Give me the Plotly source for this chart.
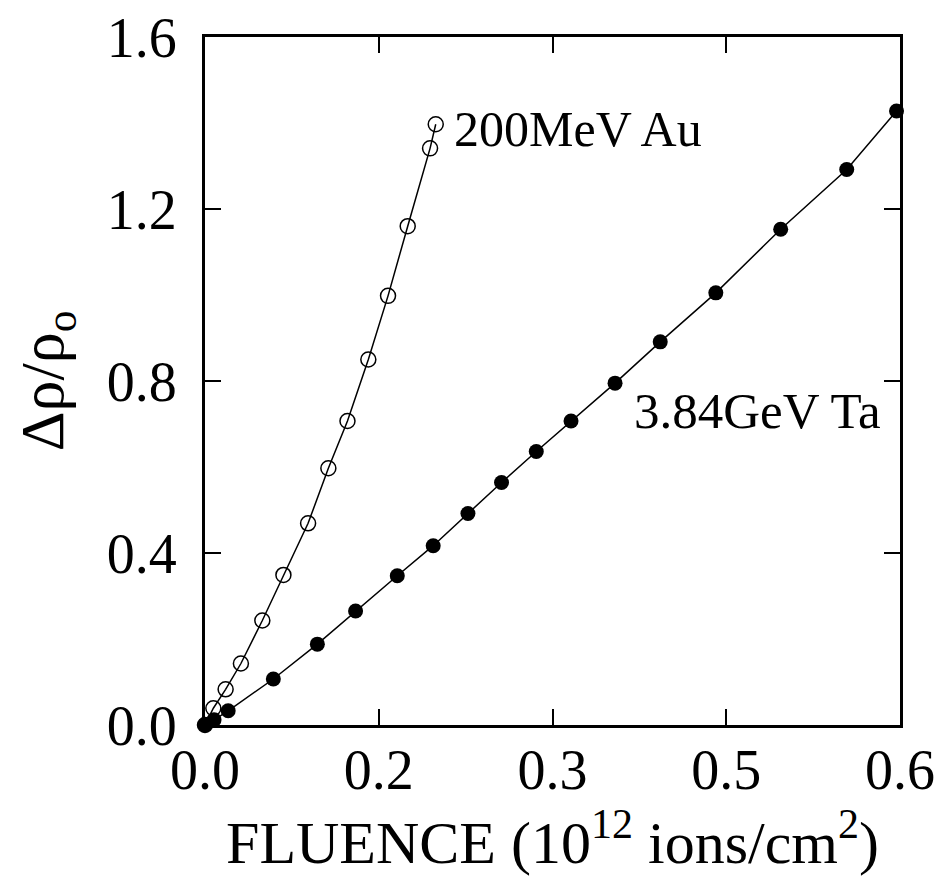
import plotly.graph_objects as go

# 200 MeV Au (open circles)
au_fluence = [0.0, 0.0072, 0.0178, 0.031, 0.0495, 0.0677, 0.089, 0.1065, 0.123,
              0.141, 0.158, 0.175, 0.1943, 0.1992]
au_drho = [0.0, 0.039, 0.083, 0.143, 0.243, 0.349, 0.469, 0.597, 0.707,
           0.850, 0.998, 1.160, 1.341, 1.397]

# 3.84 GeV Ta (filled circles)
ta_fluence = [0.0, 0.0078, 0.020, 0.059, 0.097, 0.130, 0.166, 0.197, 0.227,
              0.256, 0.286, 0.316, 0.354, 0.393, 0.441, 0.497, 0.554, 0.597]
ta_drho = [0.0, 0.012, 0.033, 0.107, 0.188, 0.265, 0.347, 0.417, 0.492,
           0.564, 0.636, 0.707, 0.795, 0.891, 1.005, 1.153, 1.292, 1.428]

x_tickvals = [0.0, 0.15, 0.3, 0.45, 0.6]
x_ticktext = ["0.0", "0.2", "0.3", "0.5", "0.6"]
y_tickvals = [0.0, 0.4, 0.8, 1.2, 1.6]
y_ticktext = ["0.0", "0.4", "0.8", "1.2", "1.6"]

label_au = "200MeV Au"
label_ta = "3.84GeV Ta"

FONT = "Liberation Serif"

fig = go.Figure()
fig.add_trace(go.Scatter(
    x=au_fluence, y=au_drho, mode="lines+markers", name=label_au,
    line=dict(color="black", width=1.5),
    marker=dict(symbol="circle-open", size=15, color="black", line=dict(width=1.5)),
    cliponaxis=False,
))
fig.add_trace(go.Scatter(
    x=ta_fluence, y=ta_drho, mode="lines+markers", name=label_ta,
    line=dict(color="black", width=1.5),
    marker=dict(symbol="circle", size=15, color="black"),
    cliponaxis=False,
))

fig.add_annotation(x=0.213, y=1.386, text=label_au, showarrow=False,
                   xanchor="left", yanchor="middle",
                   font=dict(family=FONT, size=50, color="black"))
fig.add_annotation(x=0.369, y=0.731, text=label_ta, showarrow=False,
                   xanchor="left", yanchor="middle",
                   font=dict(family=FONT, size=51, color="black"))

axis_common = dict(
    showgrid=False, zeroline=False, showline=True, linecolor="black",
    linewidth=3, mirror="ticks", ticks="inside", ticklen=16, tickwidth=2,
    tickcolor="black", tickfont=dict(family=FONT, size=56, color="black"),
    ticklabeloverflow="allow",
)

fig.update_xaxes(
    range=[0, 0.6], tickvals=x_tickvals, ticktext=x_ticktext,
    ticklabelstandoff=-6,
    title=dict(text="FLUENCE (10<sup>12</sup> ions/cm<sup>2</sup>)",
               font=dict(family=FONT, size=60, color="black"), standoff=0),
    **axis_common,
)
fig.update_yaxes(
    range=[0, 1.6], tickvals=y_tickvals, ticktext=y_ticktext,
    ticklabelstandoff=14,
    title=dict(text="\u0394\u03c1/\u03c1<sub>o</sub>",
               font=dict(family=FONT, size=62, color="black"), standoff=36),
    **axis_common,
)

# page body adds an 8px margin: size the figure so that no scrollbars appear
fig.update_layout(
    width=928, height=880,
    margin=dict(l=197, r=36, t=29, b=163, autoexpand=False),
    paper_bgcolor="white", plot_bgcolor="white",
    font=dict(family=FONT, color="black"),
    showlegend=False,
)

fig.write_html("out.html")
